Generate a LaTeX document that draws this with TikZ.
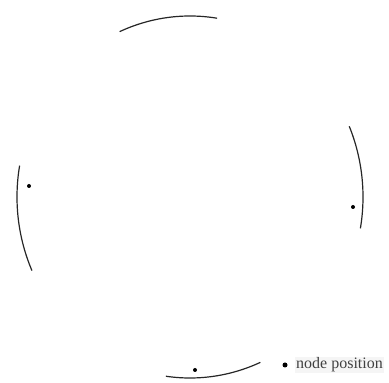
\documentclass[tikz,border=0pt]{standalone}
\usepackage{fontspec}
\setmainfont{Liberation Serif}
\begin{document}
\begin{tikzpicture}[x=1pt,y=1pt,
  arcline/.style={line width=1.2pt, black!85},
  posdot/.style={circle, fill=black, inner sep=0pt, minimum size=4pt},
  legtext/.style={font=\fontsize{16}{18}\selectfont, text=black!75, fill=black!4, inner sep=1pt, anchor=west}]
\useasboundingbox (0,0) rectangle (389,383);
\coordinate (c) at (190,186);
\draw[arcline] (c) ++(81:173 and 181) arc[start angle=81, end angle=114, x radius=173, y radius=181];
\draw[arcline] (c) ++(170:173 and 181) arc[start angle=170, end angle=204, x radius=173, y radius=181];
\draw[arcline] (c) ++(-10:173 and 181) arc[start angle=-10, end angle=23, x radius=173, y radius=181];
\draw[arcline] (c) ++(262:173 and 181) arc[start angle=262, end angle=294, x radius=173, y radius=181];
\node[posdot] (d1) at (29,197) {};
\node[posdot] (d2) at (353,176) {};
\node[posdot] (d3) at (195,13) {};
\node[posdot, minimum size=5pt] (ld) at (285,18) {};
\node[legtext] (lt) at (295,18) {node position};
\end{tikzpicture}
\end{document}
